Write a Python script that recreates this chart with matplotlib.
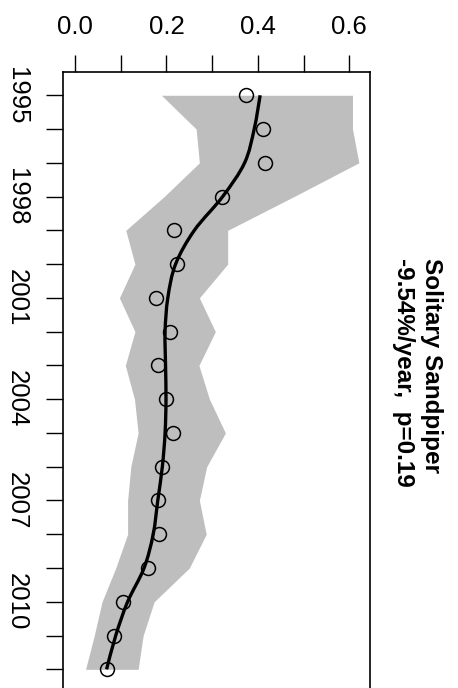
import numpy as np
import matplotlib
matplotlib.use('Agg')
import matplotlib.pyplot as plt
from matplotlib.path import Path
from matplotlib.patches import PathPatch
from matplotlib.ticker import MultipleLocator, FixedLocator

plt.rcParams['font.family'] = ['Liberation Sans', 'DejaVu Sans']

# Данные (индекс по годам)
years = list(range(1995, 2013))
observed = [0.373, 0.411, 0.416, 0.322, 0.217, 0.222, 0.178, 0.208, 0.181,
            0.199, 0.214, 0.190, 0.181, 0.184, 0.159, 0.106, 0.086, 0.071]
trend = [0.405, 0.392, 0.371, 0.323, 0.261, 0.220, 0.203, 0.197, 0.198,
         0.199, 0.197, 0.191, 0.181, 0.171, 0.151, 0.115, 0.089, 0.069]
lower = [0.189, 0.265, 0.272, 0.195, 0.111, 0.131, 0.097, 0.131, 0.110,
         0.130, 0.138, 0.122, 0.115, 0.115, 0.089, 0.059, 0.042, 0.023]
upper = [0.607, 0.607, 0.621, 0.479, 0.334, 0.334, 0.272, 0.307, 0.271,
         0.294, 0.329, 0.288, 0.272, 0.287, 0.250, 0.173, 0.149, 0.138]
value_ticks = [0.0, 0.2, 0.4, 0.6]
year_ticks = [1995, 1998, 2001, 2004, 2007, 2010]
title = "Solitary Sandpiper"
subtitle = "-9.54%/year,  p=0.19"


def smooth_path(xs, ys):
    """Плавная кривая через точки (Catmull-Rom -> кубические Безье)"""
    pts = np.column_stack([xs, ys]).astype(float)
    verts = [pts[0]]
    codes = [Path.MOVETO]
    n = len(pts)
    for i in range(n - 1):
        p0 = pts[max(i - 1, 0)]
        p1, p2 = pts[i], pts[i + 1]
        p3 = pts[min(i + 2, n - 1)]
        verts += [p1 + (p2 - p0) / 6, p2 - (p3 - p1) / 6, p2]
        codes += [Path.CURVE4] * 3
    return Path(verts, codes)


W, H = 458, 688
fig = plt.figure(figsize=(W / 100, H / 100), dpi=100)
# оси повернуты: годы сверху вниз, значения по горизонтали
ax = fig.add_axes([63.3 / W, 1 - 692.3 / H, (370.3 - 63.3) / W, (692.3 - 72.3) / H])

ax.fill_betweenx(years, lower, upper, color='#BEBEBE', lw=0)
ax.add_patch(PathPatch(smooth_path(trend, years), fill=False, edgecolor='black',
                       lw=2.4, capstyle='butt'))
ax.plot(observed, years, 'o', mfc='none', mec='black', ms=10, mew=1.1)

ax.set_xlim(-0.0257, 0.646)
ax.set_ylim(2012.68, 1994.32)

ax.xaxis.tick_top()
ax.xaxis.set_major_locator(FixedLocator(value_ticks))
ax.xaxis.set_minor_locator(MultipleLocator(0.1))
ax.set_xticklabels([f"{v:.1f}" for v in value_ticks])
ax.yaxis.set_major_locator(FixedLocator(year_ticks))
ax.yaxis.set_minor_locator(MultipleLocator(1))
ax.set_yticklabels([str(y) for y in year_ticks], rotation=-90, va='center')

ax.tick_params(which='both', length=12, width=1.0, color='black')
ax.tick_params(axis='x', labelsize=18.5, pad=12)
ax.tick_params(axis='y', labelsize=18.5, pad=13)
for s in ax.spines.values():
    s.set_linewidth(1.2)

# заголовок повернут, обе строки начинаются с одной высоты
fig.text(431 / W, 1 - 258 / H, title, rotation=-90, fontsize=17.5,
         fontweight='bold', ha='center', va='top')
fig.text(403 / W, 1 - 258 / H, subtitle, rotation=-90, fontsize=17.5,
         fontweight='bold', ha='center', va='top')

fig.savefig('out.png', dpi=100)
